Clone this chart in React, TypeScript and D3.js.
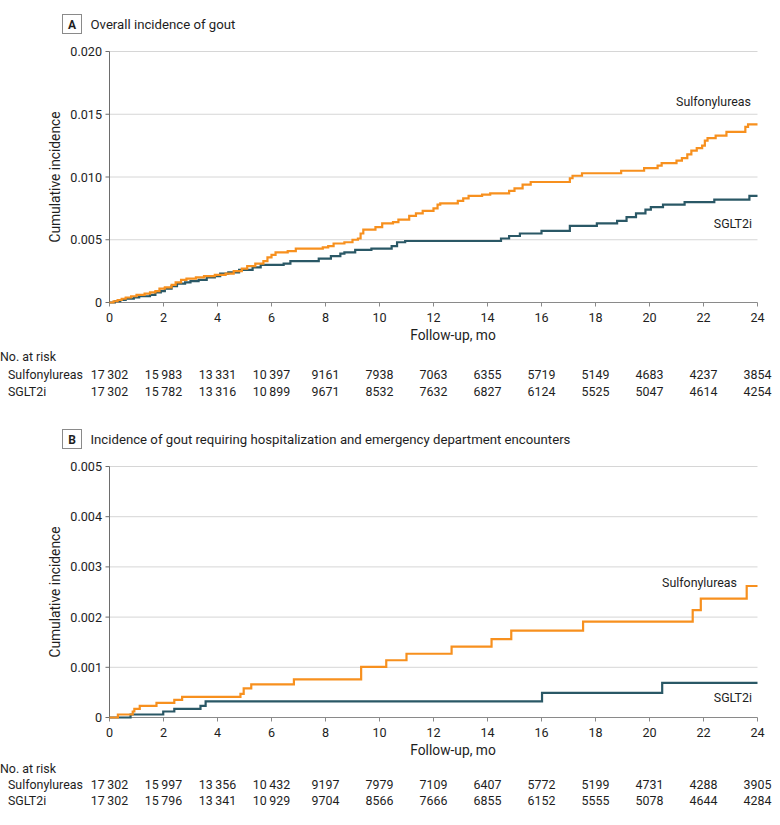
import React from 'react'
import * as d3 from 'd3'

// [month, cumulative incidence] at each step
const sulfA: [number, number][] = [
  [0, 0], [0.15, 0.0001], [0.3, 0.0002], [0.45, 0.0003], [0.6, 0.0004], [0.8, 0.0005], [1.0, 0.0006],
  [1.3, 0.0007], [1.5, 0.0008], [1.7, 0.0009], [1.85, 0.0011], [2.05, 0.0012], [2.3, 0.0014], [2.45, 0.0016],
  [2.65, 0.0018], [2.85, 0.0019], [3.2, 0.002], [3.5, 0.0021], [3.9, 0.0022], [4.3, 0.0023], [4.6, 0.0025],
  [4.9, 0.0027], [5.1, 0.0029], [5.4, 0.0031], [5.7, 0.0033], [5.85, 0.0036], [6.0, 0.0038], [6.15, 0.004],
  [6.6, 0.0041], [6.9, 0.0043], [7.9, 0.0044], [8.1, 0.0045], [8.3, 0.0047], [8.7, 0.0048], [9.0, 0.005],
  [9.2, 0.0051], [9.3, 0.0055], [9.4, 0.0058], [9.85, 0.006], [10.1, 0.0063], [10.5, 0.0064], [10.7, 0.0066],
  [11.1, 0.0069], [11.35, 0.0071], [11.6, 0.0073], [12.0, 0.0075], [12.15, 0.0078], [12.25, 0.0079],
  [12.9, 0.0081], [13.1, 0.0083], [13.3, 0.0085], [13.8, 0.0086], [14.1, 0.0087], [14.8, 0.0089],
  [15.0, 0.0091], [15.3, 0.0094], [15.6, 0.0096], [17.05, 0.0099], [17.15, 0.0101], [17.5, 0.0103],
  [18.95, 0.0105], [19.8, 0.0107], [20.3, 0.0109], [20.45, 0.0111], [21.0, 0.0113], [21.2, 0.0115],
  [21.4, 0.0118], [21.55, 0.0121], [21.75, 0.0123], [21.95, 0.0125], [22.05, 0.0129], [22.15, 0.0131],
  [22.45, 0.0133], [22.85, 0.0136], [23.55, 0.014], [23.65, 0.0142]
]

const sgltA: [number, number][] = [
  [0, 0], [0.2, 0.0001], [0.4, 0.0002], [0.6, 0.0003], [0.9, 0.0004], [1.1, 0.0005], [1.5, 0.0006],
  [1.7, 0.0008], [1.9, 0.0009], [2.05, 0.0011], [2.3, 0.0013], [2.5, 0.0015], [2.8, 0.0016], [3.0, 0.0017],
  [3.3, 0.0018], [3.6, 0.002], [3.9, 0.0021], [4.1, 0.0023], [4.4, 0.0024], [4.8, 0.0026], [5.3, 0.0028],
  [5.6, 0.003], [6.45, 0.0031], [6.7, 0.0033], [7.75, 0.0035], [8.2, 0.0037], [8.55, 0.0039], [8.7, 0.004],
  [9.1, 0.0042], [9.7, 0.0043], [10.45, 0.0045], [10.65, 0.0048], [10.95, 0.0049], [14.5, 0.0051],
  [14.8, 0.0053], [15.2, 0.0055], [16.0, 0.0057], [17.05, 0.0061], [18.05, 0.0063], [18.8, 0.0065],
  [19.15, 0.0068], [19.5, 0.0071], [19.85, 0.0074], [20.05, 0.0076], [20.5, 0.0078], [21.3, 0.008],
  [22.4, 0.0082], [23.7, 0.0085]
]

const sulfB: [number, number][] = [
  [0, 0], [0.31, 0.00006], [0.86, 0.00012], [0.92, 0.00017], [1.12, 0.00023], [1.74, 0.00029],
  [2.4, 0.00035], [2.69, 0.00041], [4.85, 0.00047], [4.97, 0.00058], [5.25, 0.00066], [6.83, 0.00076],
  [9.32, 0.00101], [10.25, 0.00114], [11.0, 0.00127], [12.67, 0.00141], [14.15, 0.00156], [14.88, 0.00173],
  [17.54, 0.00191], [21.6, 0.00214], [21.9, 0.00237], [23.6, 0.00262]
]

const sgltB: [number, number][] = [
  [0, 0], [0.78, 0.00006], [1.99, 0.00012], [2.4, 0.00017], [3.37, 0.00023], [3.56, 0.00032],
  [16.02, 0.00049], [20.47, 0.00069]
]

const months = [0, 2, 4, 6, 8, 10, 12, 14, 16, 18, 20, 22, 24]
const ticksA = [0, 0.005, 0.01, 0.015, 0.02]
const ticksB = [0, 0.001, 0.002, 0.003, 0.004, 0.005]

const riskSulfA = [17302, 15983, 13331, 10397, 9161, 7938, 7063, 6355, 5719, 5149, 4683, 4237, 3854]
const riskSgltA = [17302, 15782, 13316, 10899, 9671, 8532, 7632, 6827, 6124, 5525, 5047, 4614, 4254]
const riskSulfB = [17302, 15997, 13356, 10432, 9197, 7979, 7109, 6407, 5772, 5199, 4731, 4288, 3905]
const riskSgltB = [17302, 15796, 13341, 10929, 9704, 8566, 7666, 6855, 6152, 5555, 5078, 4644, 4284]

const ORANGE = '#f7901e'
const TEAL = '#2a5866'
const FONT = 'Roboto, "Open Sans", sans-serif'
const TEXT = '#1e1e1e'

const fmtRisk = (n: number) =>
  n >= 10000 ? `${Math.floor(n / 1000)}\u2009${String(n % 1000).padStart(3, '0')}` : String(n)

const x = d3.scaleLinear().domain([0, 24]).range([109.5, 757.5])

interface PanelProps {
  letter: string
  title: string
  top: number
  yMax: number
  yTicks: number[]
  yFmt: (v: number) => string
  sulf: [number, number][]
  sglt: [number, number][]
  riskSulf: number[]
  riskSglt: number[]
  riskY: [number, number, number]
  sulfLabel: [number, number]
  sgltLabel: [number, number]
}

function Panel(p: PanelProps) {
  const y0 = p.top + 251
  const y = d3.scaleLinear().domain([0, p.yMax]).range([y0, p.top])
  const line = d3
    .line<[number, number]>()
    .x(d => x(d[0]))
    .y(d => y(d[1]))
    .curve(d3.curveStepAfter)
  const extend = (s: [number, number][]): [number, number][] => [...s, [24, s[s.length - 1][1]]]
  const titleBase = p.top - 23

  return (
    <g fontFamily={FONT} fill={TEXT}>
      <rect x={62.5} y={titleBase - 14} width={19} height={19} fill="none" stroke="#8a8a8a" />
      <text x={72} y={titleBase} textAnchor="middle" fontSize={12} fontWeight={700}>{p.letter}</text>
      <text x={90.5} y={titleBase} fontSize={13.2}>{p.title}</text>

      {p.yTicks.map(t => (
        <g key={t}>
          {t > 0 && <line x1={x(0)} x2={x(24)} y1={y(t)} y2={y(t)} stroke="#d6d6d6" strokeWidth={1} />}
          <line x1={x(0) - 4} x2={x(0)} y1={y(t)} y2={y(t)} stroke="#6d6d6d" />
          <text x={102} y={y(t)} dy="0.36em" textAnchor="end" fontSize={12.6}>{p.yFmt(t)}</text>
        </g>
      ))}
      <line x1={x(0)} x2={x(0)} y1={p.top} y2={y0} stroke="#6d6d6d" />
      <line x1={x(0)} x2={x(24)} y1={y0} y2={y0} stroke="#8a8a8a" />
      {months.map(m => (
        <g key={m}>
          <line x1={x(m)} x2={x(m)} y1={y0} y2={y0 + 4} stroke="#8a8a8a" />
          <text x={x(m)} y={y0 + 19} textAnchor="middle" fontSize={12.6}>{m}</text>
        </g>
      ))}
      <text x={453} y={y0 + 37} textAnchor="middle" fontSize={13.8}>Follow-up, mo</text>
      <text transform={`translate(60,${(p.top + y0) / 2}) rotate(-90)`} textAnchor="middle" fontSize={13.8}>
        Cumulative incidence
      </text>

      <path d={line(extend(p.sglt)) || ''} fill="none" stroke={TEAL} strokeWidth={2.2} />
      <path d={line(extend(p.sulf)) || ''} fill="none" stroke={ORANGE} strokeWidth={2.2} />

      <text x={p.sulfLabel[0]} y={p.sulfLabel[1]} textAnchor="end" fontSize={12.4}>Sulfonylureas</text>
      <text x={p.sgltLabel[0]} y={p.sgltLabel[1]} textAnchor="end" fontSize={12.4}>SGLT2i</text>

      <text x={0} y={p.riskY[0]} fontSize={12.4}>No. at risk</text>
      <text x={8} y={p.riskY[1]} fontSize={12.4}>Sulfonylureas</text>
      <text x={8} y={p.riskY[2]} fontSize={12.4}>SGLT2i</text>
      {months.map((m, i) => (
        <g key={m}>
          <text x={x(m)} y={p.riskY[1]} textAnchor="middle" fontSize={12.4}>{fmtRisk(p.riskSulf[i])}</text>
          <text x={x(m)} y={p.riskY[2]} textAnchor="middle" fontSize={12.4}>{fmtRisk(p.riskSglt[i])}</text>
        </g>
      ))}
    </g>
  )
}

export default function App() {
  const fmtA = (v: number) => (v === 0 ? '0' : d3.format('.3f')(v))
  return (
    <svg width={780} height={825} style={{ position: 'absolute', left: 0, top: 0, background: '#fff' }}>
      <Panel
        letter="A"
        title="Overall incidence of gout"
        top={51.5}
        yMax={0.02}
        yTicks={ticksA}
        yFmt={fmtA}
        sulf={sulfA}
        sglt={sgltA}
        riskSulf={riskSulfA}
        riskSglt={riskSgltA}
        riskY={[361, 379, 396]}
        sulfLabel={[751, 106]}
        sgltLabel={[752, 228]}
      />
      <Panel
        letter="B"
        title="Incidence of gout requiring hospitalization and emergency department encounters"
        top={466.5}
        yMax={0.005}
        yTicks={ticksB}
        yFmt={fmtA}
        sulf={sulfB}
        sglt={sgltB}
        riskSulf={riskSulfB}
        riskSglt={riskSgltB}
        riskY={[773, 789, 805]}
        sulfLabel={[737, 587]}
        sgltLabel={[752, 702]}
      />
    </svg>
  )
}
